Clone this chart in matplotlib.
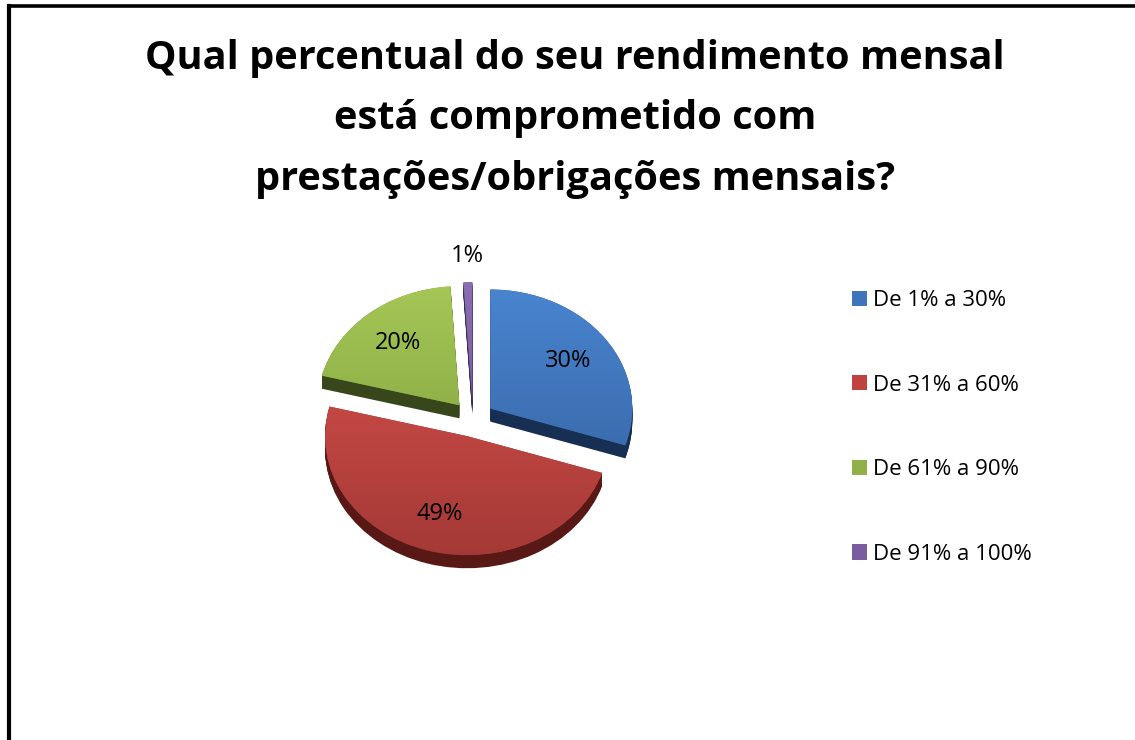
import numpy as np
import matplotlib.pyplot as plt
from matplotlib.lines import Line2D
from matplotlib.patches import Patch
from matplotlib.colors import LinearSegmentedColormap

plt.rcParams['font.family'] = ['Open Sans', 'DejaVu Sans']

# --- data ---
labels = ['De 1% a 30%', 'De 31% a 60%', 'De 61% a 90%', 'De 91% a 100%']
values = [30, 49, 20, 1]
title = ('Qual percentual do seu rendimento mensal\n'
         'está comprometido com\n'
         'prestações/obrigações mensais?')

# --- style ---
top_light = ['#4a86d2', '#d9514c', '#a7c957', '#8c70b4']
top_dark = ['#33609c', '#a13835', '#7a9a3a', '#654b8a']
side_col = ['#172f52', '#571816', '#38461b', '#3b2a55']
legend_col = ['#3f74bb', '#c0423f', '#8fb148', '#7a5ca0']

W, H = 1135, 740
fig = plt.figure(figsize=(W / 100, H / 100), dpi=100)
fig.patch.set_facecolor('white')

# frame (left and top edges only are visible)
fig.add_artist(Line2D([9 / W, 9 / W], [0, 1 - 5.5 / H], color='black', lw=3.0,
                      transform=fig.transFigure, solid_capstyle='projecting'))
fig.add_artist(Line2D([9 / W, 1], [1 - 5.5 / H, 1 - 5.5 / H], color='black', lw=2.6,
                      transform=fig.transFigure, solid_capstyle='projecting'))

fig.text(575 / W, 1 - 119 / H, title, ha='center', va='center', fontsize=28.6,
         fontweight='bold', linespacing=1.72)

# pie axes: pixel scale differs in x / y to flatten the pie
cx, cy, rx, ry = 473, 419, 142, 119
ax = fig.add_axes([(cx - 1.6 * rx) / W, (H - cy - 1.5 * ry) / H, 3.2 * rx / W, 3.0 * ry / H])

explode = [0.15] * len(values)
depth = 0.11
nlayers = 14
for k in range(nlayers, 0, -1):
    ax.pie(values, explode=explode, startangle=90, counterclock=False,
           center=(0, -depth * k / nlayers), colors=side_col,
           wedgeprops=dict(linewidth=0))

wedges, _ = ax.pie(values, explode=explode, startangle=90, counterclock=False,
                   colors=top_dark, wedgeprops=dict(linewidth=0))

# vertical light->dark gradient on each top face
grad = np.linspace(0, 1, 256).reshape(-1, 1)
for w, c1, c2 in zip(wedges, top_light, top_dark):
    cmap = LinearSegmentedColormap.from_list('g', [c1, c2])
    ex = w.center
    im = ax.imshow(grad, cmap=cmap, extent=[ex[0] - 1.1, ex[0] + 1.1, ex[1] - 1.1, ex[1] + 1.1],
                   origin='upper', interpolation='bilinear', zorder=w.get_zorder() + 0.1)
    im.set_clip_path(w)

# percentage labels
for w, v in zip(wedges, values):
    ang = np.deg2rad((w.theta1 + w.theta2) / 2)
    dist = 0.68 if v >= 5 else 1.22
    x = w.center[0] + dist * np.cos(ang)
    y = w.center[1] + dist * np.sin(ang)
    ax.text(x, y, f'{v}%', ha='center', va='center', fontsize=17, color='black', zorder=5)

ax.set_aspect('auto')
ax.set_xlim(-1.6, 1.6)
ax.set_ylim(-1.5, 1.5)
ax.axis('off')

handles = [Patch(facecolor=c, edgecolor='none') for c in legend_col]
fig.legend(handles, labels, loc='upper left', bbox_to_anchor=(852 / W, 1 - 290 / H),
           frameon=False, fontsize=16, handlelength=0.68, handleheight=0.68,
           handletextpad=0.28, labelspacing=2.86, borderpad=0, borderaxespad=0)

fig.savefig('out.png', dpi=100, facecolor='white')
